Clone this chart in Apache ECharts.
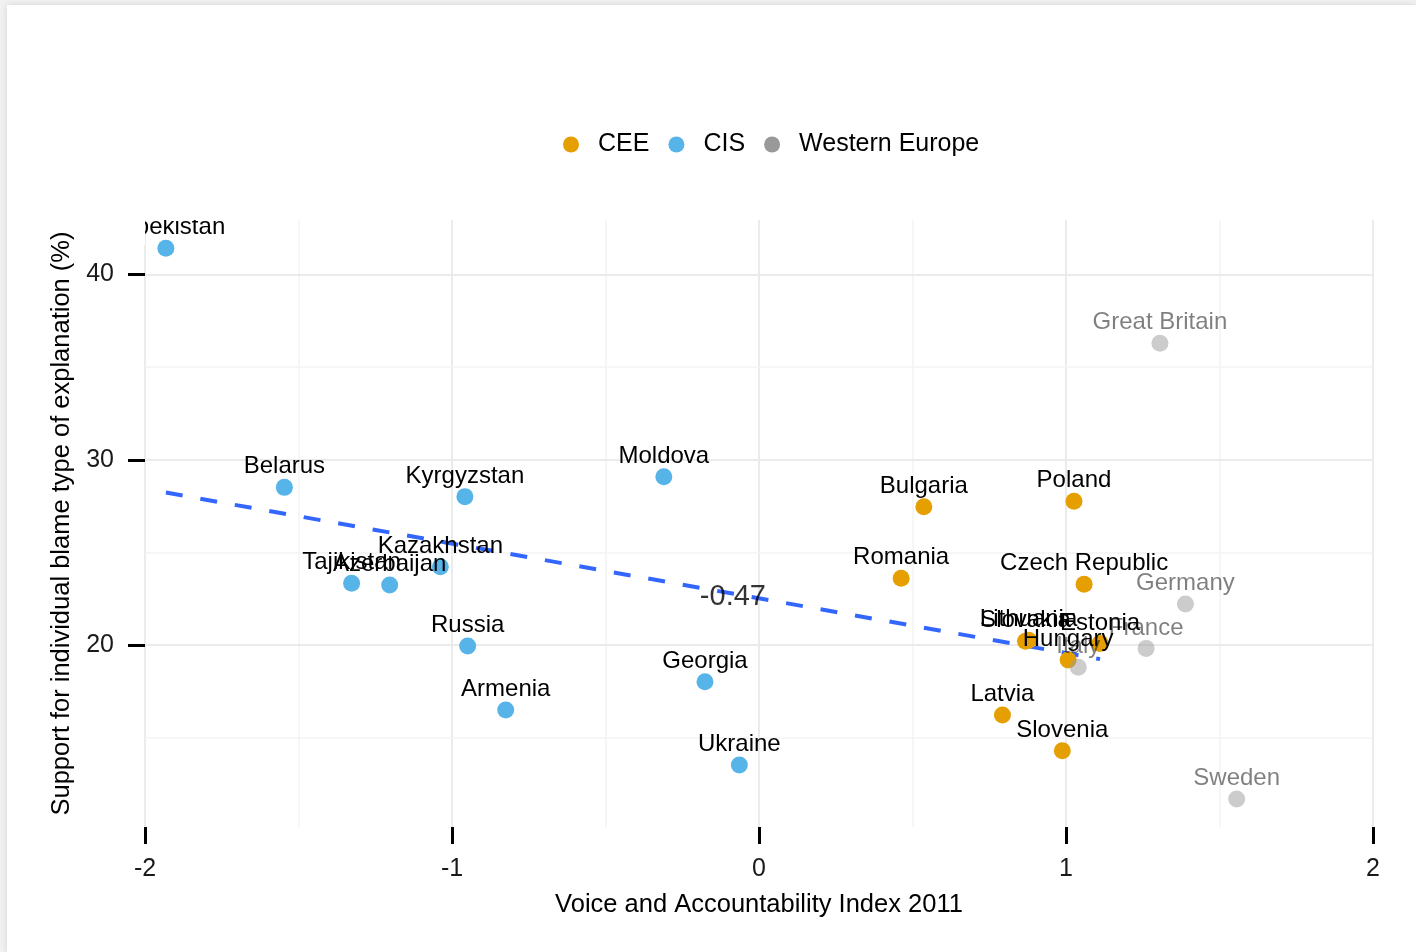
<!DOCTYPE html>
<html>
<head>
<meta charset="utf-8">
<script src="https://cdn.jsdelivr.net/npm/echarts@6.0.0/dist/echarts.min.js"></script>
<style>
  html, body { margin: 0; padding: 0; background: #f1f1f1; }
  .card {
    position: absolute; left: 7px; top: 5px; width: 1409px; height: 947px;
    background: #fff; box-shadow: 0 0 6px rgba(0, 0, 0, 0.12);
  }
  #chart { position: absolute; left: 0; top: 0; width: 1416px; height: 952px; }
</style>
</head>
<body>
<div class="card"></div>
<div id="chart"></div>
<script>
// CEE countries
const ceeNames = ['Bulgaria', 'Poland', 'Romania', 'Czech Republic', 'Slovakia', 'Lithuania', 'Estonia', 'Hungary', 'Latvia', 'Slovenia'];
const ceeX = [0.537, 1.026, 0.463, 1.059, 0.868, 0.878, 1.111, 1.007, 0.793, 0.988];
const ceeY = [27.47, 27.76, 23.60, 23.28, 20.20, 20.26, 20.09, 19.19, 16.22, 14.29];

// CIS countries
const cisNames = ['Uzbekistan', 'Belarus', 'Kyrgyzstan', 'Moldova', 'Kazakhstan', 'Tajikistan', 'Azerbaijan', 'Russia', 'Armenia', 'Georgia', 'Ukraine'];
const cisX = [-1.932, -1.546, -0.958, -0.310, -1.038, -1.327, -1.203, -0.949, -0.825, -0.176, -0.064];
const cisY = [41.41, 28.51, 28.01, 29.08, 24.23, 23.33, 23.24, 19.95, 16.49, 18.02, 13.52];

// Western Europe
const weNames = ['Great Britain', 'Germany', 'France', 'Italy', 'Sweden'];
const weX = [1.306, 1.389, 1.261, 1.040, 1.556];
const weY = [36.29, 22.21, 19.82, 18.80, 11.69];

// fitted line (CEE + CIS) and correlation label
const trendX = [-1.932, 1.111];
const trendY = [28.23, 19.24];
const corrText = '-0.47';
const corrAt = [-0.085, 22.6];

// axis ticks
const xTicks = [-2, -1, 0, 1, 2];
const yTicks = [20, 30, 40];
const yMinor = [15, 25, 35];

const FONT = '"Liberation Sans", Arial, sans-serif';
const MAJOR = '#ebebeb';
const MINOR = '#f3f3f3';

const toPoints = (names, xs, ys) => names.map((n, i) => ({ name: n, value: [xs[i], ys[i]] }));

const labelStyle = () => ({
  show: true,
  position: 'top',
  distance: 0,
  formatter: '{b}',
  fontFamily: FONT,
  fontSize: 24,
  color: '#000',
});

const gridLines = [];
yTicks.forEach((v) => gridLines.push({ yAxis: v, lineStyle: { color: MAJOR, width: 2, type: 'solid' } }));
yMinor.forEach((v) => gridLines.push({ yAxis: v, lineStyle: { color: MINOR, width: 1.5, type: 'solid' } }));

const chart = echarts.init(document.getElementById('chart'), null, { renderer: 'canvas' });

const option = {
  backgroundColor: 'transparent',
  animation: false,
  textStyle: { fontFamily: FONT },
  grid: { left: 145, right: 43, top: 220, bottom: 125 },
  legend: {
    left: 558,
    top: 127,
    icon: 'circle',
    itemWidth: 16,
    itemHeight: 16,
    itemGap: 19,
    textStyle: { fontFamily: FONT, fontSize: 25, color: '#000', padding: [0, 0, 0, 14] },
    data: [
      { name: 'CEE', itemStyle: { color: '#E69F00', opacity: 1 } },
      { name: 'CIS', itemStyle: { color: '#56B4E9', opacity: 1 } },
      { name: 'Western Europe', itemStyle: { color: '#999999', opacity: 1 } },
    ],
  },
  xAxis: {
    type: 'value',
    min: xTicks[0],
    max: xTicks[xTicks.length - 1],
    interval: 1,
    name: 'Voice and Accountability Index 2011',
    nameLocation: 'middle',
    nameGap: 65,
    nameTextStyle: { fontFamily: FONT, fontSize: 25.5, color: '#000' },
    axisLine: { show: false, onZero: false },
    axisTick: { show: true, length: 17, lineStyle: { color: '#000', width: 3 } },
    axisLabel: { fontFamily: FONT, fontSize: 25, color: '#1a1a1a', margin: 30 },
    splitLine: { show: true, lineStyle: { color: MAJOR, width: 2 } },
    minorTick: { show: false, splitNumber: 2 },
    minorSplitLine: { show: true, lineStyle: { color: MINOR, width: 1.5 } },
  },
  yAxis: {
    type: 'value',
    min: 10.18,
    max: 42.94,
    name: 'Support for individual blame type of explanation (%)',
    nameLocation: 'middle',
    nameGap: 68,
    nameTextStyle: { fontFamily: FONT, fontSize: 25.5, color: '#000' },
    axisLine: { show: false, onZero: false },
    axisTick: { show: true, length: 17, customValues: yTicks, lineStyle: { color: '#000', width: 3 } },
    axisLabel: { fontFamily: FONT, fontSize: 25, color: '#1a1a1a', margin: 31, customValues: yTicks },
    splitLine: { show: false },
  },
  graphic: [
    // the plot clips the top-left label
    { type: 'rect', left: 95, top: 195, z: 100, shape: { width: 50, height: 50 }, style: { fill: '#fff' } },
    { type: 'rect', left: 95, top: 190, z: 100, shape: { width: 260, height: 30 }, style: { fill: '#fff' } },
  ],
  series: [
    {
      name: 'grid',
      type: 'line',
      data: [],
      z: 0,
      silent: true,
      markLine: { silent: true, z: 0, symbol: 'none', label: { show: false }, data: gridLines },
    },
    {
      name: 'trend',
      type: 'line',
      z: 2,
      symbol: 'none',
      data: trendX.map((x, i) => [x, trendY[i]]),
      lineStyle: { color: '#3366FF', width: 4, type: [17, 18] },
    },
    {
      name: 'CEE',
      type: 'scatter',
      z: 3,
      symbolSize: 17,
      itemStyle: { color: '#E69F00', opacity: 1 },
      label: labelStyle(),
      data: toPoints(ceeNames, ceeX, ceeY),
    },
    {
      name: 'CIS',
      type: 'scatter',
      z: 3,
      symbolSize: 17,
      itemStyle: { color: '#56B4E9', opacity: 1 },
      label: labelStyle(),
      data: toPoints(cisNames, cisX, cisY),
    },
    {
      name: 'Western Europe',
      type: 'scatter',
      z: 3,
      symbolSize: 17,
      // alpha 0.5 also fades the labels
      itemStyle: { color: '#999999', opacity: 0.5 },
      label: labelStyle(),
      data: toPoints(weNames, weX, weY),
    },
    {
      name: 'corr',
      type: 'scatter',
      z: 4,
      symbolSize: 0,
      label: {
        show: true,
        position: 'inside',
        formatter: corrText,
        fontFamily: FONT,
        fontSize: 29,
        color: '#000',
      },
      data: [corrAt],
    },
  ],
};

chart.setOption(option);
</script>
</body>
</html>
